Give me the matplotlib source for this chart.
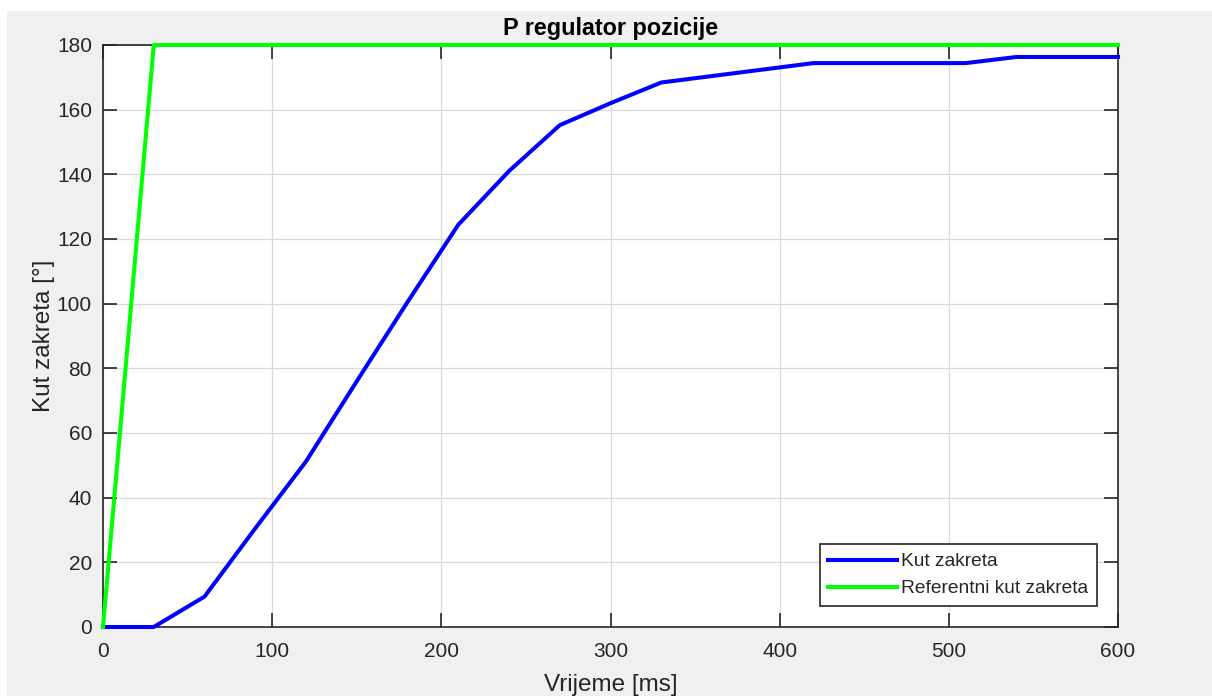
import matplotlib.pyplot as plt
from matplotlib.patches import Rectangle

# --- podaci --- #
t_kut = [0, 30, 60, 90, 120, 150, 180, 210, 240, 270, 300, 330, 420, 510, 540, 600]
kut = [0, 0, 9.4, 30.5, 51.2, 76, 100.5, 124.4, 141, 155.2, 162, 168.4, 174.4, 174.4, 176.3, 176.3]
t_ref = [0, 30, 600]
kut_ref = [0, 180, 180]

naslov = "P regulator pozicije"
x_oznaka = "Vrijeme [ms]"
y_oznaka = "Kut zakreta [°]"
legenda = ["Kut zakreta", "Referentni kut zakreta"]

plt.rcParams['font.family'] = ['Liberation Sans', 'DejaVu Sans']
siva = "#262626"

fig = plt.figure(figsize=(12.12, 6.96), dpi=100, facecolor="white")
fig.patches.append(Rectangle((7 / 1212, 0), 1, 1 - 11 / 696, transform=fig.transFigure,
                             facecolor="#f0f0f0", edgecolor="none", zorder=-10))
ax = fig.add_axes([103 / 1212, 1 - 627 / 696, 1015 / 1212, 582 / 696])

ax.plot(t_kut, kut, color="#0000ff", lw=2.9, label=legenda[0], clip_on=False, zorder=3)
ax.plot(t_ref, kut_ref, color="#00ff00", lw=2.9, label=legenda[1], clip_on=False, zorder=3)

ax.set_xlim(0, 600)
ax.set_ylim(0, 180)
ax.set_xticks(range(0, 601, 100))
ax.set_yticks(range(0, 181, 20))
ax.grid(True, color="#d9d9d9", lw=0.9)
ax.set_axisbelow(True)
ax.tick_params(direction="in", length=10, width=1.2, colors=siva, labelsize=15,
               top=True, right=True, pad=8)
ax.tick_params(axis="x", pad=11)
for s in ax.spines.values():
    s.set_color(siva)
    s.set_linewidth(1.2)

ax.set_title(naslov, fontsize=16.8, fontweight="bold", color="black", pad=7)
ax.set_xlabel(x_oznaka, fontsize=17.5, color=siva, labelpad=9)
ax.set_ylabel(y_oznaka, fontsize=17.5, color=siva, labelpad=1)

leg = ax.legend(loc="lower right", bbox_to_anchor=(0.9793, 0.036), borderaxespad=0,
                fontsize=13.8, fancybox=False, framealpha=1, edgecolor=siva,
                handlelength=3.6, handletextpad=0.2, borderpad=0.45, labelspacing=0.5)
leg.get_frame().set_linewidth(1.2)
for txt in leg.get_texts():
    txt.set_color(siva)

fig.savefig("out.png", dpi=100, facecolor=fig.get_facecolor())
